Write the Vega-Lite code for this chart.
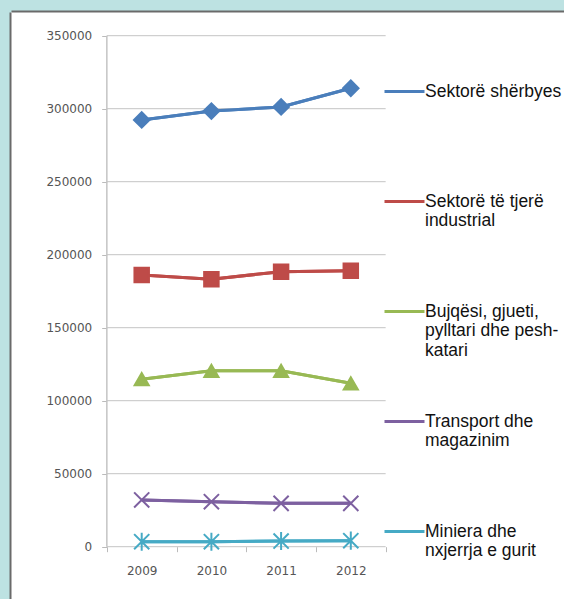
{
  "$schema": "https://vega.github.io/schema/vega-lite/v6.json",
  "width": 553,
  "height": 587,
  "autosize": {"type": "none"},
  "padding": {"left": 11, "top": 12, "right": 0, "bottom": 0},
  "background": "#BDE2E2",
  "config": {
    "view": {"fill": "white", "stroke": null},
    "axis": {"labelFont": "DejaVu Sans", "labelFontSize": 12, "labelColor": "#555555"}
  },
  "resolve": {"axis": {"x": "independent", "y": "independent"}},
  "datasets": {
    "series": [
      {"series": "Sektorë shërbyes", "year": 2009, "value": 292300},
      {"series": "Sektorë shërbyes", "year": 2010, "value": 298400},
      {"series": "Sektorë shërbyes", "year": 2011, "value": 301200},
      {"series": "Sektorë shërbyes", "year": 2012, "value": 314000},
      {"series": "Sektorë të tjerë industrial", "year": 2009, "value": 186100},
      {"series": "Sektorë të tjerë industrial", "year": 2010, "value": 183200},
      {"series": "Sektorë të tjerë industrial", "year": 2011, "value": 188400},
      {"series": "Sektorë të tjerë industrial", "year": 2012, "value": 189000},
      {"series": "Bujqësi, gjueti, pylltari dhe peshkatari", "year": 2009, "value": 114700},
      {"series": "Bujqësi, gjueti, pylltari dhe peshkatari", "year": 2010, "value": 120500},
      {"series": "Bujqësi, gjueti, pylltari dhe peshkatari", "year": 2011, "value": 120500},
      {"series": "Bujqësi, gjueti, pylltari dhe peshkatari", "year": 2012, "value": 111900},
      {"series": "Transport dhe magazinim", "year": 2009, "value": 32000},
      {"series": "Transport dhe magazinim", "year": 2010, "value": 30800},
      {"series": "Transport dhe magazinim", "year": 2011, "value": 29700},
      {"series": "Transport dhe magazinim", "year": 2012, "value": 29700},
      {"series": "Miniera dhe nxjerrja e gurit", "year": 2009, "value": 3400},
      {"series": "Miniera dhe nxjerrja e gurit", "year": 2010, "value": 3400},
      {"series": "Miniera dhe nxjerrja e gurit", "year": 2011, "value": 3900},
      {"series": "Miniera dhe nxjerrja e gurit", "year": 2012, "value": 4100}
    ],
    "grid": [
      {"v": 0}, {"v": 50000}, {"v": 100000}, {"v": 150000},
      {"v": 200000}, {"v": 250000}, {"v": 300000}, {"v": 350000}
    ]
  },
  "layer": [
    {
      "data": {"name": "series"},
      "mark": {"type": "line", "strokeWidth": 3},
      "encoding": {
        "x": {
          "field": "year", "type": "quantitative",
          "scale": {"domain": [2007.1248, 2015.0588], "nice": false, "zero": false},
          "axis": {
            "orient": "bottom", "offset": -52.3, "values": [2009, 2010, 2011, 2012],
            "format": "d", "ticks": false, "tickSize": 0, "domain": false, "grid": false,
            "labelPadding": 19, "title": null
          }
        },
        "y": {
          "field": "value", "type": "quantitative",
          "scale": {"domain": [-35822, 366233], "nice": false, "zero": false},
          "axis": {
            "orient": "left", "offset": -95.7,
            "values": [0, 50000, 100000, 150000, 200000, 250000, 300000, 350000],
            "format": "d", "ticks": true, "tickSize": 5, "tickColor": "#bbbbbb",
            "domain": false, "grid": false, "labelPadding": 10, "title": null
          }
        },
        "color": {
          "field": "series", "type": "nominal",
          "scale": {
            "domain": ["Sektorë shërbyes", "Sektorë të tjerë industrial", "Bujqësi, gjueti, pylltari dhe peshkatari", "Transport dhe magazinim", "Miniera dhe nxjerrja e gurit"],
            "range": ["#4A7EBB", "#BE4B48", "#98B954", "#7D60A0", "#46AAC5"]
          },
          "legend": {
            "orient": "none", "legendX": 372, "legendY": 58, "title": null,
            "symbolType": "stroke", "symbolSize": 1600, "symbolStrokeWidth": 3,
            "labelFont": "Liberation Sans", "labelFontSize": 17.5, "labelColor": "#111111",
            "labelLineHeight": 21, "labelLimit": 220, "labelOffset": -1,
            "gridAlign": "all", "rowPadding": 41,
            "labelExpr": "datum.label == 'Sektorë të tjerë industrial' ? ['Sektorë të tjerë', 'industrial'] : datum.label == 'Bujqësi, gjueti, pylltari dhe peshkatari' ? ['Bujqësi, gjueti,', 'pylltari dhe pesh-', 'katari'] : datum.label == 'Transport dhe magazinim' ? ['Transport dhe', 'magazinim'] : datum.label == 'Miniera dhe nxjerrja e gurit' ? ['Miniera dhe', 'nxjerrja e gurit'] : datum.label"
          }
        }
      }
    },
    {
      "data": {"name": "grid"},
      "mark": {"type": "rule", "color": "#c4c4c4", "strokeWidth": 1},
      "encoding": {
        "y": {
          "field": "v", "type": "quantitative",
          "axis": {"orient": "left", "offset": 1, "labels": false, "ticks": false, "grid": false, "domain": true, "domainColor": "#6a6a6a", "domainWidth": 2, "title": null}
        },
        "x": {
          "datum": 2008.5, "type": "quantitative",
          "axis": {"orient": "top", "offset": 1, "labels": false, "ticks": false, "grid": false, "domain": true, "domainColor": "#6a6a6a", "domainWidth": 2, "title": null}
        },
        "x2": {"datum": 2012.5}
      }
    },
    {
      "data": {"values": [{}]},
      "mark": {"type": "rule", "color": "#c4c4c4", "strokeWidth": 1.5},
      "encoding": {
        "x": {
          "datum": 2008.5, "type": "quantitative",
          "axis": {"orient": "bottom", "offset": -52.3, "values": [2008.5, 2009.5, 2010.5, 2011.5, 2012.5], "labels": false, "ticks": true, "tickSize": 5, "tickColor": "#bbbbbb", "grid": false, "domain": false, "title": null}
        },
        "y": {"datum": 0, "type": "quantitative", "axis": null},
        "y2": {"datum": 350000}
      }
    },
    {
      "data": {"name": "series"},
      "mark": {"type": "line", "strokeWidth": 3},
      "encoding": {
        "x": {"field": "year", "type": "quantitative", "axis": null},
        "y": {"field": "value", "type": "quantitative", "axis": null},
        "color": {"field": "series", "type": "nominal"}
      }
    },
    {
      "data": {"name": "series"},
      "transform": [{"filter": {"field": "series", "equal": "Sektorë shërbyes"}}],
      "mark": {"type": "point", "shape": "diamond", "filled": true, "fill": "#4A7EBB", "stroke": "#4A7EBB", "strokeWidth": 2, "opacity": 1, "size": 240},
      "encoding": {
        "x": {"field": "year", "type": "quantitative", "axis": null},
        "y": {"field": "value", "type": "quantitative", "axis": null}
      }
    },
    {
      "data": {"name": "series"},
      "transform": [{"filter": {"field": "series", "equal": "Sektorë të tjerë industrial"}}],
      "mark": {"type": "point", "shape": "square", "filled": true, "fill": "#BE4B48", "stroke": "#BE4B48", "strokeWidth": 2, "opacity": 1, "size": 210},
      "encoding": {
        "x": {"field": "year", "type": "quantitative", "axis": null},
        "y": {"field": "value", "type": "quantitative", "axis": null}
      }
    },
    {
      "data": {"name": "series"},
      "transform": [{"filter": {"field": "series", "equal": "Bujqësi, gjueti, pylltari dhe peshkatari"}}],
      "mark": {"type": "point", "shape": "triangle-up", "filled": true, "fill": "#98B954", "stroke": "#98B954", "strokeWidth": 2, "opacity": 1, "size": 200},
      "encoding": {
        "x": {"field": "year", "type": "quantitative", "axis": null},
        "y": {"field": "value", "type": "quantitative", "axis": null}
      }
    },
    {
      "data": {"name": "series"},
      "transform": [{"filter": {"field": "series", "equal": "Transport dhe magazinim"}}],
      "mark": {"type": "point", "shape": "M-1,-1L1,1M-1,1L1,-1", "filled": false, "stroke": "#7D60A0", "strokeWidth": 2, "opacity": 1, "size": 230},
      "encoding": {
        "x": {"field": "year", "type": "quantitative", "axis": null},
        "y": {"field": "value", "type": "quantitative", "axis": null}
      }
    },
    {
      "data": {"name": "series"},
      "transform": [{"filter": {"field": "series", "equal": "Miniera dhe nxjerrja e gurit"}}],
      "mark": {"type": "point", "shape": "M-1,-1L1,1M-1,1L1,-1M0,-1.2L0,1.2", "filled": false, "stroke": "#46AAC5", "strokeWidth": 2, "opacity": 1, "size": 230},
      "encoding": {
        "x": {"field": "year", "type": "quantitative", "axis": null},
        "y": {"field": "value", "type": "quantitative", "axis": null}
      }
    }
  ]
}
